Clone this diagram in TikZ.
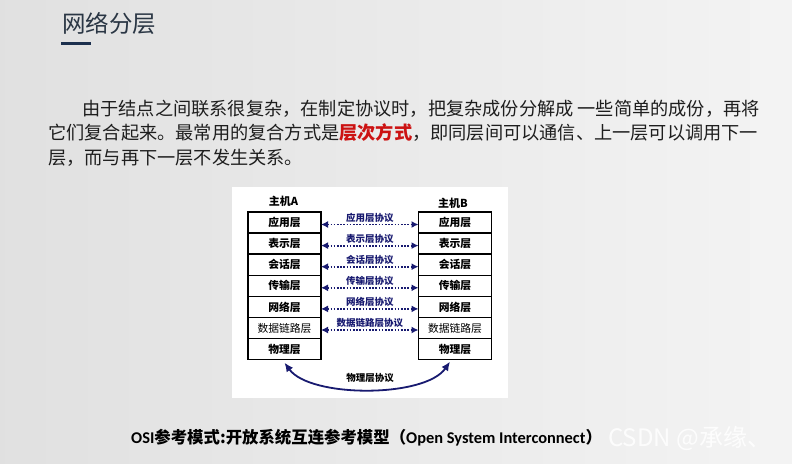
\documentclass[tikz,border=0pt]{standalone}
\usepackage{fontspec}
\setmainfont{Noto Sans CJK SC}
\newfontfamily\capfont{Carlito}
\usepackage{xcolor}
\usetikzlibrary{positioning,arrows.meta}
\definecolor{mynavy}{RGB}{24,26,112}
\definecolor{titlecol}{RGB}{42,54,68}
\definecolor{barcol}{RGB}{28,48,78}
\definecolor{hlred}{RGB}{204,18,18}
\definecolor{bodycol}{RGB}{30,30,30}

\begin{document}
\begin{tikzpicture}[x=1pt,y=-1pt,
        layer/.style={rectangle, draw=black, line width=1.4pt, fill=white,
                      minimum width=73pt, minimum height=21.1pt,
                      inner sep=0pt, outer sep=0pt,
                      font=\fontsize{10.8}{12}\selectfont\bfseries},
        host/.style={font=\fontsize{11}{12}\selectfont\bfseries},
        lbl/.style={font=\fontsize{9.5}{10}\selectfont\bfseries, inner sep=1.5pt},
        body/.style={anchor=base west, inner sep=0pt, text=bodycol,
                     font=\fontsize{18.2}{24}\selectfont},
        proto/.style={{Latex[length=7pt,width=7pt]}-{Latex[length=7pt,width=7pt]},
                      mynavy, line width=1.8pt, dash pattern=on 1.6pt off 1.6pt},
        phys/.style={{Latex[length=9pt,width=8pt]}-{Latex[length=9pt,width=8pt]},
                     mynavy, line width=1.8pt}
      ]
        % page and panel
        \useasboundingbox (0,0) rectangle (792,463);
        \fill[left color=gray!24, right color=gray!9] (0,0) rectangle (792,463);
        \fill[white] (232,187) rectangle (508,398);

        % title
        \node[anchor=base west, inner sep=0pt, text=titlecol,
              font=\fontsize{23.5}{26}\selectfont] (title) at (62,32) {网络分层};
        \fill[barcol] (61,41.5) rectangle (91,44.5);

        % text
        \node[body] (line1) at (82,115)
              {由于结点之间联系很复杂，在制定协议时，把复杂成份分解成 一些简单的成份，再将};
        \node[body] (line2) at (48,139)
              {它们复合起来。最常用的复合方式是{\bfseries\color{hlred}层次方式}，即同层间可以通信、上一层可以调用下一};
        \node[body] (line3) at (48,164) {层，而与再下一层不发生关系。};

        % host A
        \node[layer] (a1) at (284.5,222.5) {应用层};
        \node[layer, below=0pt of a1] (a2) {表示层};
        \node[layer, below=0pt of a2] (a3) {会话层};
        \node[layer, below=0pt of a3] (a4) {传输层};
        \node[layer, below=0pt of a4] (a5) {网络层};
        \node[layer, below=0pt of a5, font=\fontsize{10.8}{12}\selectfont] (a6) {数据链路层};
        \node[layer, below=0pt of a6] (a7) {物理层};
        \node[host, above=2pt of a1, xshift=-1pt] (hostA) {主机A};

        % host B
        \node[layer] (b1) at (455,222.5) {应用层};
        \node[layer, below=0pt of b1] (b2) {表示层};
        \node[layer, below=0pt of b2] (b3) {会话层};
        \node[layer, below=0pt of b3] (b4) {传输层};
        \node[layer, below=0pt of b4] (b5) {网络层};
        \node[layer, below=0pt of b5, font=\fontsize{10.8}{12}\selectfont] (b6) {数据链路层};
        \node[layer, below=0pt of b6] (b7) {物理层};
        \node[host, above=0pt of b1, xshift=-2pt] (hostB) {主机B};

        % peer protocols
        \draw[proto] ([yshift=-2pt]a1.east) -- node[lbl, above]{应用层协议} ([yshift=-2pt]b1.west);
        \draw[proto] ([yshift=-2pt]a2.east) -- node[lbl, above]{表示层协议} ([yshift=-2pt]b2.west);
        \draw[proto] ([yshift=-2pt]a3.east) -- node[lbl, above]{会话层协议} ([yshift=-2pt]b3.west);
        \draw[proto] ([yshift=-2pt]a4.east) -- node[lbl, above]{传输层协议} ([yshift=-2pt]b4.west);
        \draw[proto] ([yshift=-2pt]a5.east) -- node[lbl, above]{网络层协议} ([yshift=-2pt]b5.west);
        \draw[proto] ([yshift=-2pt]a6.east) -- node[lbl, above]{数据链路层协议} ([yshift=-2pt]b6.west);
        \draw[phys] ([yshift=-3pt]a7.south) .. controls (310,398) and (425,398) .. ([xshift=-5pt,yshift=-2pt]b7.south);
        \node[lbl] (physlbl) at (370,378) {物理层协议};

        % caption
        \node[anchor=base west, inner sep=0pt, font=\fontsize{16.4}{20}\selectfont\bfseries] (caption) at (131,443)
              {{\capfont OSI}参考模式:开放系统互连参考模型（{\capfont Open System Interconnect}）};
        \node[anchor=base west, inner sep=0pt, text=white, opacity=0.85,
              font=\fontsize{24}{26}\selectfont] (mark) at (608,446) {CSDN @承缘、};
\end{tikzpicture}
\end{document}
